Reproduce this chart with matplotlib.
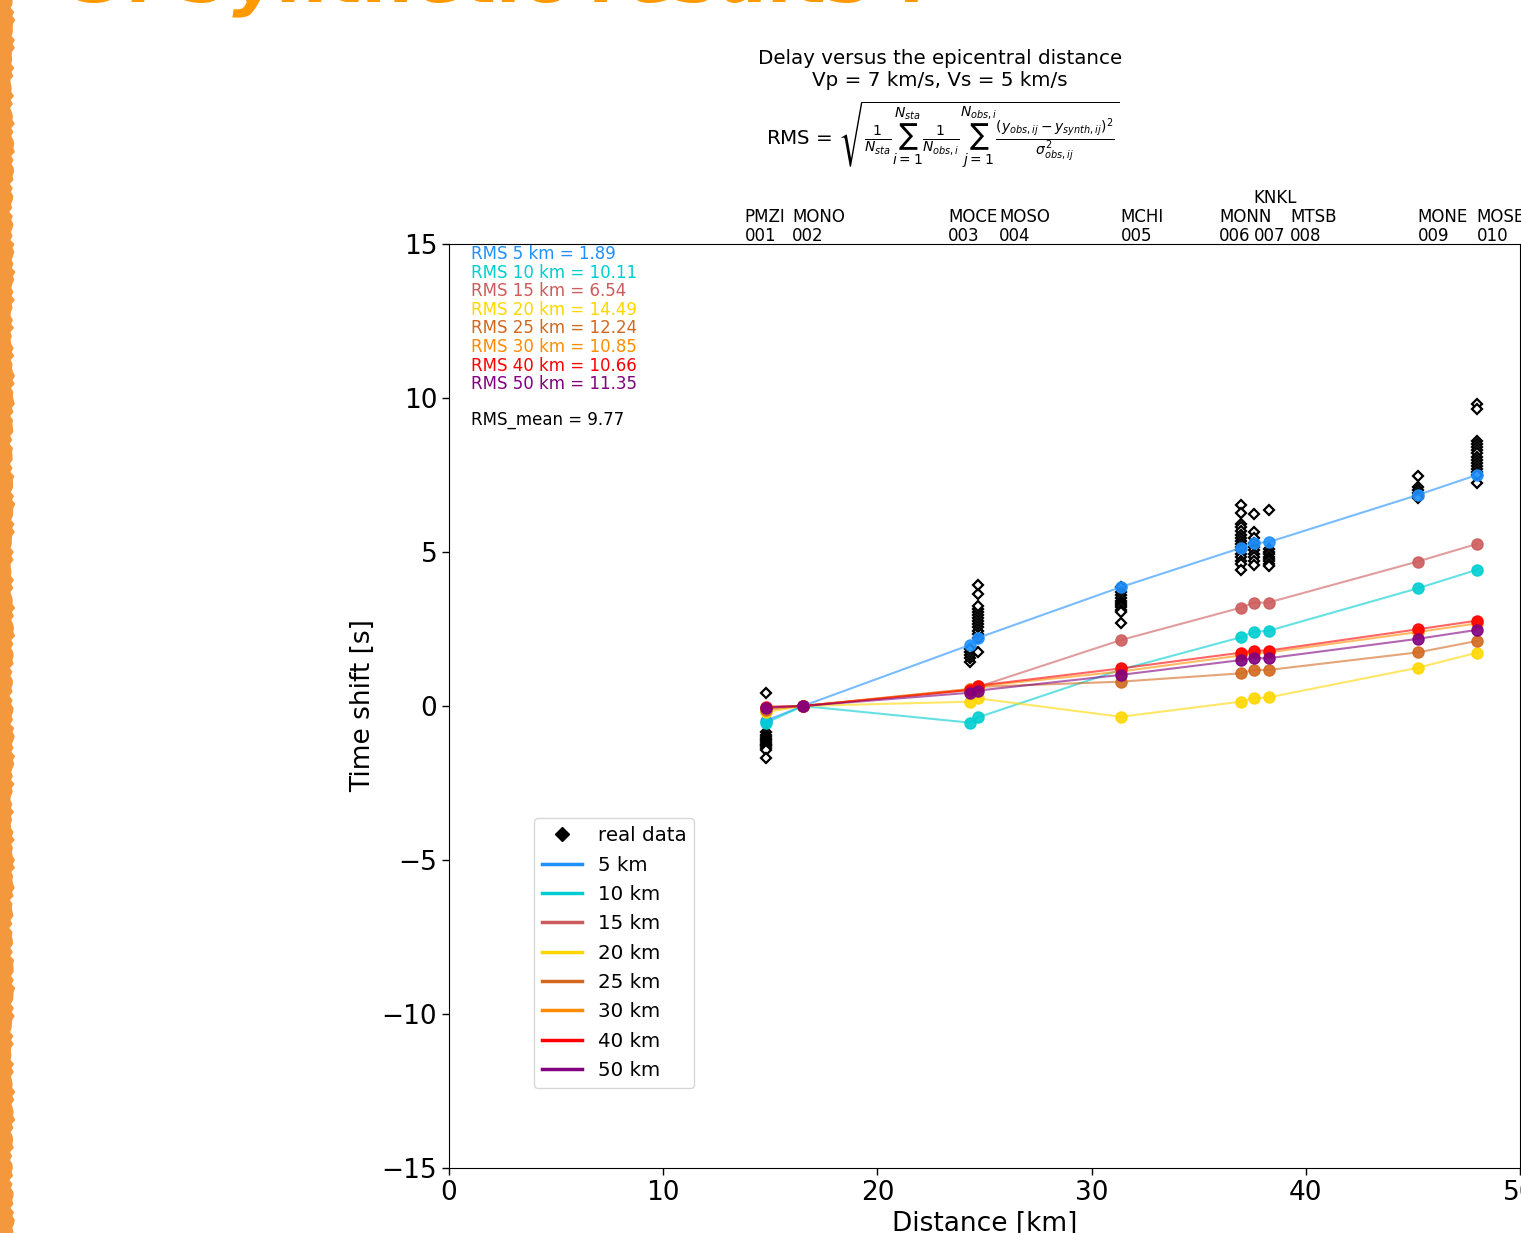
import numpy as np
import matplotlib
matplotlib.use("Agg")
import matplotlib.pyplot as plt
from matplotlib.lines import Line2D
from matplotlib.patches import Polygon, PathPatch
from matplotlib.textpath import TextPath
from matplotlib.font_manager import FontProperties
from matplotlib import transforms

# stations: name, code, epicentral distance [km]
stations = ["PMZI", "MONO", "MOCE", "MOSO", "MCHI", "MONN", "KNKL", "MTSB", "MONE", "MOSE"]
codes = ["001", "002", "003", "004", "005", "006", "007", "008", "009", "010"]
dist = [14.79, 16.52, 24.31, 24.69, 31.36, 36.96, 37.56, 38.26, 45.22, 47.98]

# observed delays (real data) per station
obs = [
    [0.41, -0.85, -0.95, -1.02, -1.08, -1.12, -1.18, -1.22, -1.27, -1.31, -1.36, -1.42, -1.70],
    [],
    [1.42, 1.55, 1.65, 1.75, 1.85],
    [1.75, 2.2, 2.35, 2.45, 2.55, 2.65, 2.75, 2.85, 2.95, 3.05, 3.15, 3.25, 3.65, 3.92],
    [3.85, 3.7, 3.6, 3.5, 3.42, 3.35, 3.28, 3.2, 3.12, 3.05, 2.68],
    [6.52, 6.28, 5.92, 5.8, 5.68, 5.55, 5.45, 5.35, 5.25, 5.15, 5.05, 4.95, 4.85, 4.72, 4.6, 4.42],
    [6.23, 5.66, 5.45, 5.3, 5.15, 5.05, 4.95, 4.85, 4.7, 4.58],
    [6.36, 5.1, 5.0, 4.92, 4.85, 4.78, 4.7, 4.62, 4.55],
    [7.47, 7.12, 7.02, 6.92, 6.82, 6.75],
    [9.82, 9.65, 8.62, 8.5, 8.4, 8.3, 8.2, 8.1, 8.0, 7.9, 7.8, 7.7, 7.6, 7.5, 7.24],
]

# synthetic delays per source depth
depths = ["5 km", "10 km", "15 km", "20 km", "25 km", "30 km", "40 km", "50 km"]
synth = [
    [-0.48, 0.0, 1.98, 2.21, 3.86, 5.13, 5.29, 5.32, 6.85, 7.50],
    [-0.55, 0.0, -0.54, -0.37, 1.18, 2.23, 2.41, 2.44, 3.82, 4.42],
    [-0.05, 0.0, 0.55, 0.62, 2.14, 3.19, 3.35, 3.36, 4.69, 5.26],
    [-0.20, 0.0, 0.14, 0.25, -0.35, 0.14, 0.25, 0.28, 1.24, 1.73],
    [-0.12, 0.0, 0.52, 0.62, 0.79, 1.06, 1.17, 1.17, 1.74, 2.11],
    [-0.08, 0.0, 0.55, 0.64, 1.12, 1.64, 1.72, 1.74, 2.40, 2.68],
    [-0.02, 0.0, 0.52, 0.66, 1.22, 1.73, 1.80, 1.80, 2.49, 2.77],
    [-0.05, 0.0, 0.43, 0.50, 1.01, 1.49, 1.55, 1.55, 2.18, 2.47],
]
rms = [1.89, 10.11, 6.54, 14.49, 12.24, 10.85, 10.66, 11.35]
rms_mean = 9.77

colors = ["dodgerblue", "darkturquoise", "indianred", "gold",
          "chocolate", "darkorange", "red", "purple"]

# label shifts (km) to keep station names apart
label_shift = [-1, -0.5, -1, 1, 0, -1, 0, 1, 0, 0]

fig = plt.figure(figsize=(15.21, 12.33), dpi=100)

# slide decoration: orange brush border and heading cut by the crop
i = np.arange(0, 320)
yy = i * 4
edge = 12.5 + 1.5 * np.sin(2.7 * i) + 1.0 * np.sin(5.3 * i) + 0.8 * np.sin(0.21 * i)
verts = [(0, 1233)] + [(e, 1233 - y) for e, y in zip(edge, yy)] + [(0, 0)]
verts = [(x / 1521, y / 1233) for x, y in verts]
fig.patches.append(Polygon(verts, closed=True, transform=fig.transFigure,
                           facecolor="#f4983e", edgecolor="none"))

head = TextPath((0, 0), "3. Synthetic results ?", size=72,
                prop=FontProperties(family="DejaVu Sans", weight="bold", style="italic"))
head_tr = transforms.Affine2D().translate(78, 1231)
fig.patches.append(PathPatch(head, transform=head_tr, facecolor="#ff9900",
                             edgecolor="none"))

ax = fig.add_axes([449 / 1521, 65 / 1233, 1071 / 1521, 924 / 1233])

for k in range(len(dist)):
    if obs[k]:
        ax.plot([dist[k]] * len(obs[k]), obs[k], "D", ms=5, mfc="white",
                mec="black", mew=1.6, ls="none", zorder=2)

for k in range(len(depths)):
    ax.plot(dist, synth[k], "-", color=colors[k], lw=1.5, alpha=0.6, zorder=3)
    ax.plot(dist, synth[k], "o", color=colors[k], ms=8, alpha=0.9, ls="none", zorder=4)

ax.set_xlim(0, 50)
ax.set_ylim(-15, 15)
ax.set_xticks([0, 10, 20, 30, 40, 50])
ax.set_yticks([-15, -10, -5, 0, 5, 10, 15])
ax.tick_params(labelsize=19, length=5, width=1)
ax.set_xlabel("Distance [km]", fontsize=19)
ax.set_ylabel("Time shift [s]", fontsize=19)

# RMS values
for k in range(len(depths)):
    ax.text(0.0205, 0.989 - k * 0.0201, f"RMS {depths[k]} = {rms[k]:.2f}",
            color=colors[k], fontsize=12, transform=ax.transAxes, va="center")
ax.text(0.0205, 0.8095, f"RMS_mean = {rms_mean:.2f}", fontsize=12,
        transform=ax.transAxes, va="center")

# station labels above the axes
trans = transforms.blended_transform_factory(ax.transData, ax.transAxes)
for k in range(len(dist)):
    xl = dist[k] + label_shift[k]
    ax.text(xl, 1.0087, codes[k], fontsize=12, transform=trans, va="center",
            ha="left", clip_on=False)
    yname = 1.0498 if stations[k] == "KNKL" else 1.029
    ax.text(xl, yname, stations[k], fontsize=12, transform=trans, va="center",
            ha="left", clip_on=False)

# titles
fig.text(940 / 1521, 1 - 58 / 1233, "Delay versus the epicentral distance",
         fontsize=14.3, ha="center", va="center")
fig.text(940 / 1521, 1 - 81 / 1233, "Vp = 7 km/s, Vs = 5 km/s",
         fontsize=14.3, ha="center", va="center")
formula = (r"RMS = $\sqrt{\frac{1}{N_{sta}}\sum_{i=1}^{N_{sta}}\frac{1}{N_{obs,i}}"
           r"\sum_{j=1}^{N_{obs,i}}\frac{(y_{obs,ij}-y_{synth,ij})^2}{\sigma^2_{obs,ij}}}$")
fig.text(943 / 1521, 1 - 135 / 1233, formula, fontsize=14.3, ha="center", va="center")

# legend
handles = [Line2D([], [], marker="D", color="black", ls="none", ms=7)]
handles += [Line2D([], [], color=c, lw=2.5) for c in colors]
ax.legend(handles, ["real data"] + depths, loc="lower left",
          bbox_to_anchor=(0.0794, 0.0866), borderaxespad=0, fontsize=14.3,
          labelspacing=0.52)

fig.savefig("out.png", dpi=100)
